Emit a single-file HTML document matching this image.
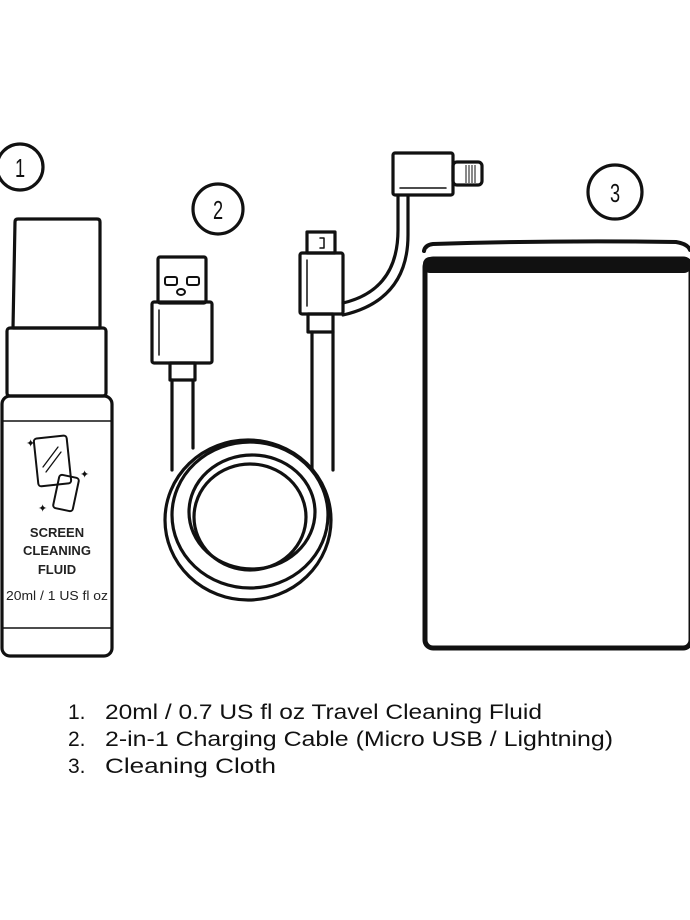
<!DOCTYPE html>
<html><head><meta charset="utf-8"><style>html,body{margin:0;padding:0;background:#fff;}svg{display:block}</style></head>
<body>
<svg width="690" height="920" viewBox="0 0 690 920" xmlns="http://www.w3.org/2000/svg" font-family="Liberation Sans, sans-serif">
<rect width="690" height="920" fill="#fff"/>
<g fill="none" stroke="#111" stroke-width="3.2" stroke-linejoin="round" stroke-linecap="round">
  <circle cx="20" cy="167" r="23"/>
  <circle cx="218" cy="209" r="25"/>
  <circle cx="615" cy="192" r="27"/>
  <path d="M15 222 Q15 219 18 219 L97 219 Q100 219 100 222 L100 328 L13 328 Z"/>
  <rect x="7" y="328" width="99" height="68" rx="3"/>
  <rect x="2" y="396" width="110" height="260" rx="8"/>
  <line x1="3" y1="421" x2="111" y2="421" stroke-width="1.5"/>
  <line x1="3" y1="628" x2="111" y2="628" stroke-width="1.5"/>
  <rect x="36" y="437" width="33" height="48" rx="3" transform="rotate(-6 52 461)" stroke-width="2"/>
  <line x1="43" y1="467" x2="58" y2="447" stroke-width="1.3"/>
  <line x1="46" y1="472" x2="61" y2="452" stroke-width="1.3"/>
  <rect x="56" y="476" width="20" height="34" rx="3" transform="rotate(12 66 493)" stroke-width="2"/>
  <rect x="158" y="257" width="48" height="46" rx="2"/>
  <rect x="165" y="277" width="12" height="8" rx="2" stroke-width="2"/>
  <rect x="187" y="277" width="12" height="8" rx="2" stroke-width="2"/>
  <ellipse cx="181" cy="292" rx="4" ry="3" stroke-width="2"/>
  <rect x="152" y="302" width="60" height="61" rx="2"/>
  <line x1="159" y1="310" x2="159" y2="355" stroke-width="1.5"/>
  <rect x="170" y="363" width="25" height="17"/>
  <line x1="172" y1="380" x2="172" y2="470"/>
  <line x1="193" y1="380" x2="193" y2="448"/>
  <ellipse cx="248" cy="520" rx="83" ry="80"/>
  <ellipse cx="250" cy="515" rx="78" ry="73"/>
  <ellipse cx="252" cy="512" rx="63" ry="57"/>
  <ellipse cx="250" cy="517" rx="56" ry="53"/>
  <rect x="307" y="232" width="28" height="21"/>
  <path d="M320 238 h4 v10 h-4" stroke-width="1.5"/>
  <rect x="300" y="253" width="43" height="61" rx="2"/>
  <line x1="307" y1="260" x2="307" y2="306" stroke-width="1.5"/>
  <rect x="308" y="314" width="25" height="18"/>
  <line x1="312" y1="332" x2="312" y2="470"/>
  <line x1="333" y1="332" x2="333" y2="470"/>
  <path d="M343 303 Q398 290 398 230 L398 196"/>
  <path d="M343 315 Q408 300 408 235 L408 196"/>
  <rect x="393" y="153" width="60" height="42" rx="2"/>
  <line x1="400" y1="188" x2="446" y2="188" stroke-width="1.5"/>
  <rect x="453" y="162" width="29" height="23" rx="4"/>
  <path d="M424 251 Q425 245 433 244 Q560 240 676 242 Q688 244 690 250" stroke-width="4"/>
  <rect x="425" y="259" width="266" height="389" rx="8" stroke-width="5"/>
</g>
<g stroke="#111" stroke-width="1">
  <line x1="466" y1="165" x2="466" y2="183"/><line x1="469" y1="165" x2="469" y2="183"/><line x1="472" y1="165" x2="472" y2="183"/><line x1="475" y1="165" x2="475" y2="183"/>
</g>
<rect x="423" y="257" width="268" height="16" rx="7" fill="#111"/>
<g fill="#111" font-size="11">
  <text x="26" y="447">✦</text><text x="80" y="478">✦</text><text x="38" y="512">✦</text>
</g>
<g fill="#111" font-size="26" text-anchor="middle">
  <text transform="translate(20 177) scale(0.7 1)">1</text>
  <text transform="translate(218 219) scale(0.7 1)">2</text>
  <text transform="translate(615 202) scale(0.7 1)">3</text>
</g>
<g fill="#222" font-weight="bold" font-size="13" text-anchor="middle">
  <text x="57" y="537">SCREEN</text>
  <text x="57" y="555">CLEANING</text>
  <text x="57" y="574">FLUID</text>
</g>
<text x="57" y="600" fill="#222" font-size="12.5" text-anchor="middle" textLength="102" lengthAdjust="spacingAndGlyphs">20ml / 1 US fl oz</text>
<g fill="#111" font-size="21">
  <text x="68" y="719">1.</text><text x="105" y="719" textLength="437" lengthAdjust="spacingAndGlyphs">20ml / 0.7 US fl oz Travel Cleaning Fluid</text>
  <text x="68" y="746">2.</text><text x="105" y="746" textLength="508" lengthAdjust="spacingAndGlyphs">2-in-1 Charging Cable (Micro USB / Lightning)</text>
  <text x="68" y="773">3.</text><text x="105" y="773" textLength="171" lengthAdjust="spacingAndGlyphs">Cleaning Cloth</text>
</g>
</svg>
</body></html>
